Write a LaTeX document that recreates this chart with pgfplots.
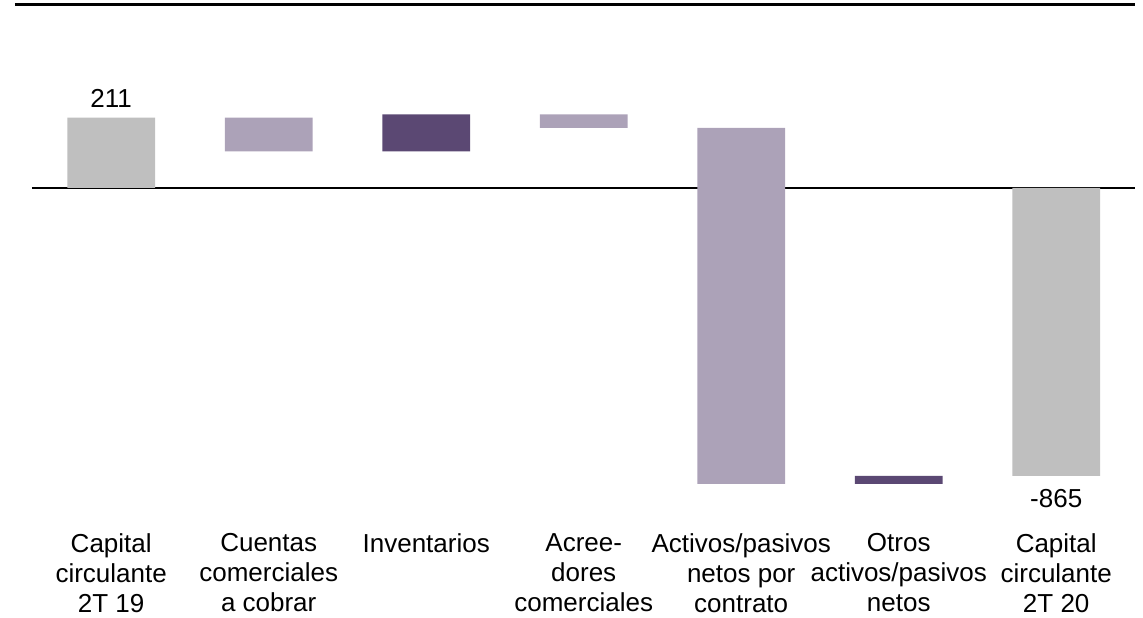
\documentclass[border=0pt]{standalone}
\usepackage{pgfplots}
\pgfplotsset{compat=1.18}
\usepackage{fontspec}
\setmainfont{Liberation Sans}
\definecolor{wfgray}{HTML}{BFBFBF}
\definecolor{wflight}{HTML}{ACA2B8}
\definecolor{wfdark}{HTML}{5B4873}
\begin{document}
\begin{tikzpicture}
\begin{axis}[
  scale only axis,
  width=571.5pt, height=308.5pt,
  xmin=-0.706, xmax=6.551,
  ymin=-1289.4, ymax=563.7,
  ybar stacked,
  stack negative=on previous,
  bar width=0.557,
  axis line style={draw=none},
  ytick=\empty,
  xtick={0,1,2,3,4,5,6},
  xticklabels={
    {Capital\\circulante\\2T 19},
    {Cuentas\\comerciales\\a cobrar},
    {Inventarios},
    {Acree-\\dores\\comerciales},
    {Activos/pasivos\\netos por\\contrato},
    {Otros\\activos/pasivos\\netos},
    {Capital\\circulante\\2T 20}},
  major tick length=0pt,
  xticklabel style={align=center, anchor=north, inner sep=0pt, yshift=42pt,
    font=\fontsize{13}{15}\selectfont},
  clip=false,
]
% invisible base
\addplot[draw=none, fill=none] coordinates {(0,0) (1,110) (2,110) (3,180) (4,-889) (5,-889) (6,0)};
% totals (gray)
\addplot[draw=none, fill=wfgray] coordinates {(0,211) (1,0) (2,0) (3,0) (4,0) (5,0) (6,-865)};
% decreases (light purple)
\addplot[draw=none, fill=wflight] coordinates {(0,0) (1,101) (2,0) (3,41) (4,1069) (5,0) (6,0)};
% increases (dark purple)
\addplot[draw=none, fill=wfdark] coordinates {(0,0) (1,0) (2,111) (3,0) (4,0) (5,24) (6,0)};
\draw[line width=0.85pt, black] (axis cs:-0.503,0) -- (axis cs:6.5,0);
\draw[line width=1.25pt, black] (axis cs:-0.611,550.2) -- (axis cs:6.5,550.2);
\node[anchor=base, inner sep=0pt, yshift=5pt, font=\fontsize{13}{15}\selectfont] at (axis cs:0,211) {211};
\node[anchor=base, inner sep=0pt, yshift=-16pt, font=\fontsize{13}{15}\selectfont] at (axis cs:6,-865) {-865};
\end{axis}
\end{tikzpicture}
\end{document}
